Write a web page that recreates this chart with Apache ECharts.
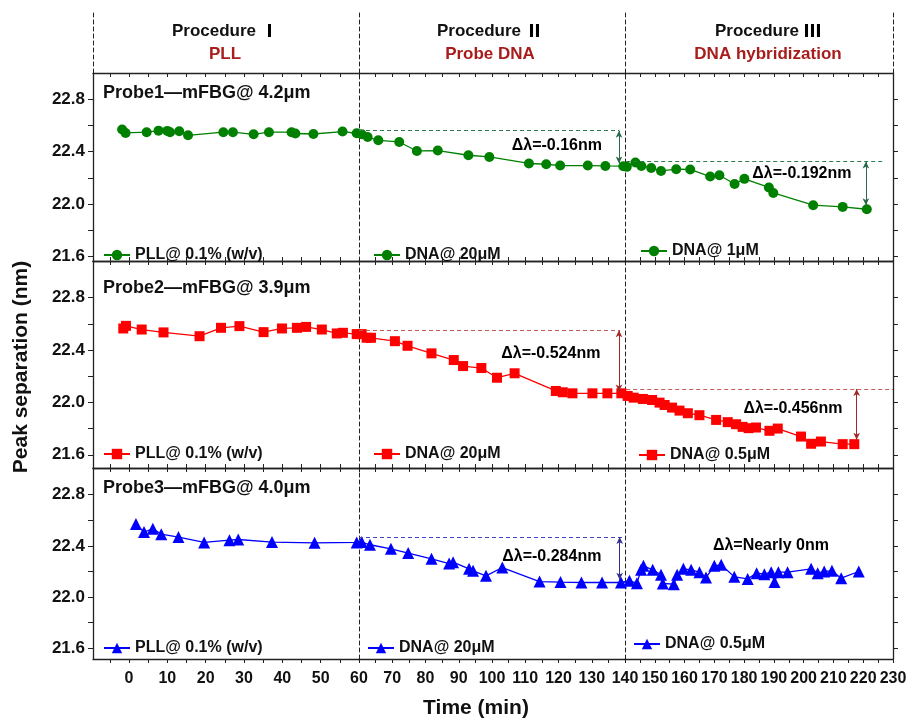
<!DOCTYPE html>
<html>
<head>
<meta charset="utf-8">
<script src="https://cdn.jsdelivr.net/npm/echarts@6.0.0/dist/echarts.min.js"></script>
<style>
html,body{margin:0;padding:0;background:#fff}
#main{width:907px;height:721px}
</style>
</head>
<body>
<div id="main"></div>
<script>
// 读图得到的数据: 时间(min) 和 峰间距(nm)
var probe1Time = [-1.8, -0.9, 4.6, 7.7, 10.0, 10.7, 13.1, 15.4, 24.6, 27.1, 32.5, 36.5, 42.4, 43.4, 48.1, 55.7, 59.4,
	60.8, 62.6, 65.8, 72.1, 77.4, 83.7, 92.9, 99.2, 111.1, 116.3, 120.5, 128.8, 134.1, 139.5,
	140.6, 143.5, 145.5, 148.8, 152.1, 157.2, 161.9, 168.6, 171.7, 176.8, 180.1, 188.3, 189.8, 203.2, 213.1, 221.2];
var probe1Peak = [22.57, 22.544, 22.55, 22.562, 22.56, 22.55, 22.557, 22.526, 22.55, 22.55, 22.534, 22.55, 22.55, 22.54, 22.536, 22.555, 22.542,
	22.534, 22.513, 22.488, 22.475, 22.406, 22.409, 22.373, 22.36, 22.31, 22.304, 22.294, 22.294, 22.291, 22.289,
	22.284, 22.317, 22.291, 22.276, 22.253, 22.266, 22.264, 22.21, 22.22, 22.153, 22.192, 22.126, 22.084, 21.99, 21.977, 21.959];

var probe2Time = [-1.5, -0.8, 3.3, 9.0, 18.4, 24.0, 28.8, 35.1, 39.9, 43.8, 46.2, 50.3, 54.2, 55.8, 59.4,
	60.8, 62.3, 63.6, 70.8, 74.6, 81.8, 88.5, 91.3, 96.8, 101.5, 106.8, 119.2, 121.3, 124.2, 130.2, 134.7, 138.9,
	140.9, 142.9, 146.0, 149.1, 151.6, 153.3, 155.8, 158.3, 161.1, 165.0, 170.6, 174.5, 177.3, 179.5, 181.5, 184.0,
	188.5, 191.3, 199.1, 202.5, 205.8, 213.1, 217.0];
var probe2Peak = [22.564, 22.584, 22.556, 22.534, 22.505, 22.569, 22.582, 22.536, 22.564, 22.569, 22.576, 22.556, 22.526, 22.531, 22.521,
	22.521, 22.493, 22.493, 22.467, 22.432, 22.374, 22.323, 22.277, 22.262, 22.188, 22.222, 22.087, 22.077, 22.069, 22.069, 22.069, 22.069,
	22.049, 22.036, 22.026, 22.018, 21.998, 21.98, 21.96, 21.937, 21.917, 21.902, 21.866, 21.849, 21.833, 21.813, 21.803, 21.808,
	21.783, 21.8, 21.739, 21.684, 21.701, 21.681, 21.681];

var probe3Time = [1.8, 3.9, 6.2, 8.4, 12.9, 19.6, 26.2, 28.5, 37.3, 48.4, 59.4,
	60.8, 63.3, 69.6, 74.8, 81.8, 87.1, 88.3, 93.1, 94.3, 98.2, 103.1, 114.3, 120.6, 126.9, 133.1, 138.8,
	141.5, 144.0, 145.4, 146.2, 149.3, 152.1, 152.7, 156.4, 157.5, 159.6, 162.2, 165.0, 167.2, 170.0, 172.3,
	176.7, 181.2, 184.2, 186.8, 189.1, 190.2, 191.5, 194.6, 202.5, 204.7, 206.9, 209.5, 212.6, 218.5];
var probe3Peak = [22.571, 22.508, 22.534, 22.492, 22.469, 22.427, 22.445, 22.45, 22.43, 22.424, 22.427,
	22.43, 22.409, 22.377, 22.344, 22.299, 22.262, 22.273, 22.221, 22.205, 22.166, 22.231, 22.121, 22.117, 22.114, 22.114, 22.114,
	22.127, 22.109, 22.213, 22.244, 22.213, 22.174, 22.106, 22.101, 22.174, 22.221, 22.213, 22.195, 22.153, 22.244, 22.252,
	22.158, 22.142, 22.187, 22.179, 22.195, 22.117, 22.195, 22.195, 22.221, 22.187, 22.2, 22.205, 22.148, 22.2];

// 三段时间轴 (每段刻度比例不同)
var segRange = [[-9.4, 60], [60, 140], [140, 230]];
var xLabels = [[0, 10, 20, 30, 40, 50, 60], [70, 80, 90, 100, 110, 120, 130], [140, 150, 160, 170, 180, 190, 200, 210, 220, 230]];
var yRange = [[21.562, 23.004], [21.499, 23.079], [21.516, 23.009]];
var yLabels = [21.6, 22.0, 22.4, 22.8];
var yTicks = [21.6, 21.8, 22.0, 22.2, 22.4, 22.6, 22.8];

var procTitle = ['Procedure', 'Procedure', 'Procedure'];
var procNum = ['Ⅰ', 'Ⅱ', 'Ⅲ'];
var procSub = ['PLL', 'Probe DNA', 'DNA hybridization'];
var probeTitle = ['Probe1—mFBG@ 4.2μm', 'Probe2—mFBG@ 3.9μm', 'Probe3—mFBG@ 4.0μm'];
var legendText = [
	['PLL@ 0.1% (w/v)', 'DNA@ 20μM', 'DNA@ 1μM'],
	['PLL@ 0.1% (w/v)', 'DNA@ 20μM', 'DNA@ 0.5μM'],
	['PLL@ 0.1% (w/v)', 'DNA@ 20μM', 'DNA@ 0.5μM']
];

// 标注: [行, 段, 起点t, 终点t, 值]
var guideLines = [[0, 1, 60, 138.2, 22.562], [0, 2, 140.4, 226.9, 22.33], [1, 1, 60, 138.2, 22.551], [1, 2, 140.4, 230, 22.102], [2, 1, 60, 139.4, 22.469]];
// [行, 段, t, 上端, 下端]
var arrowMarks = [[0, 1, 138.2, 22.562, 22.309], [0, 2, 220.9, 22.326, 21.99], [1, 1, 138.2, 22.551, 22.082], [1, 2, 217.8, 22.102, 21.714], [2, 1, 138.4, 22.469, 22.135]];
// [行, 段, t, 值, 文本]
var deltaText = [[0, 1, 119.5, 22.449, 'Δλ=-0.16nm'], [0, 2, 199.4, 22.234, 'Δλ=-0.192nm'], [1, 1, 117.7, 22.376, 'Δλ=-0.524nm'],
	[1, 2, 196.4, 21.95, 'Δλ=-0.456nm'], [2, 1, 118, 22.317, 'Δλ=-0.284nm'], [2, 2, 189, 22.403, 'Δλ=Nearly 0nm']];

var FONT = "'Liberation Sans', Arial, 'Noto Sans CJK SC', sans-serif";
var colLeft = [93, 359, 625], colWidth = [266, 266, 268];
var rowTop = [73, 261, 468], rowHeight = [188, 207, 191];
var colors = ['#008000', '#ff0000', '#0000ff'];
var symbols = ['circle', 'rect', 'triangle'];
var symbolSizes = [10, 10, 12];
var guideColor = ['#2f7d4f', '#c85a5a', '#4444c4'];
var arrowColor = ['#2a6a4a', '#a02828', '#303090'];
var legendPos = [[[103, 247], [373, 247], [640, 243]], [[103, 446], [373, 446], [638, 447]], [[103, 640], [367, 640], [633, 636]]];
var headX = [225, 490, 768];
var probes = [[probe1Time, probe1Peak], [probe2Time, probe2Peak], [probe3Time, probe3Peak]];

//取某一段的数据,两端各多带一个点,让折线连到分界线
function segData(time, peak, lo, hi) {
	var out = [];
	function inside(i) { return i >= 0 && i < time.length && time[i] >= lo && time[i] <= hi; }
	for (var i = 0; i < time.length; i++) {
		if (inside(i) || inside(i - 1) || inside(i + 1)) out.push([time[i], peak[i]]);
	}
	return out;
}

function fiveTicks(range) {
	var arr = [];
	for (var v = Math.ceil(range[0] / 5) * 5; v <= range[1]; v += 5) arr.push(v);
	return arr;
}

var lineColor = '#222';
var grids = [], xAxes = [], yAxes = [], series = [], legends = [], graphics = [];
var axisOf = {}; // 记录每个格子的坐标轴下标,后面放文字用

for (var r = 0; r < 3; r++) {
	for (var c = 0; c < 3; c++) {
		var g = grids.length;
		grids.push({ left: colLeft[c], top: rowTop[r], width: colWidth[c], height: rowHeight[r], containLabel: false, outerBoundsMode: 'none' });
		var xb = xAxes.length;
		xAxes.push({
			gridIndex: g, type: 'value', min: segRange[c][0], max: segRange[c][1], position: 'bottom',
			axisLine: { show: true, onZero: false, lineStyle: { color: lineColor, width: 1.3 } },
			axisTick: { show: true, inside: r < 2, length: 4, customValues: fiveTicks(segRange[c]), lineStyle: { color: lineColor } },
			axisLabel: { show: r === 2, customValues: xLabels[c], margin: 12, fontSize: 16, fontWeight: 'bold', color: '#111', fontFamily: FONT },
			splitLine: { show: false }
		});
		xAxes.push({
			gridIndex: g, type: 'value', min: segRange[c][0], max: segRange[c][1], position: 'top',
			axisLine: { show: true, onZero: false, lineStyle: { color: lineColor, width: 1.3 } },
			axisTick: { show: true, inside: true, length: 4, customValues: fiveTicks(segRange[c]), lineStyle: { color: lineColor } },
			axisLabel: { show: false }, splitLine: { show: false }
		});
		var ym = yAxes.length;
		axisOf[r + '-' + c] = [xb, ym];
		if (c === 0) {
			yAxes.push({
				gridIndex: g, type: 'value', min: yRange[r][0], max: yRange[r][1], position: 'left',
				axisLine: { show: true, onZero: false, lineStyle: { color: lineColor, width: 1.3 } },
				axisTick: { show: true, length: 5, customValues: yTicks, lineStyle: { color: lineColor } },
				axisLabel: { customValues: yLabels, formatter: function (v) { return v.toFixed(1); }, margin: 8, fontSize: 17, fontWeight: 'bold', color: '#111', fontFamily: FONT },
				splitLine: { show: false }
			});
		} else {
			yAxes.push({
				gridIndex: g, type: 'value', min: yRange[r][0], max: yRange[r][1], position: 'left',
				axisLine: { show: true, onZero: false, lineStyle: { color: lineColor, width: 1, type: [4, 3] } },
				axisTick: { show: false }, axisLabel: { show: false }, splitLine: { show: false }
			});
		}
		if (c === 2) {
			yAxes.push({
				gridIndex: g, type: 'value', min: yRange[r][0], max: yRange[r][1], position: 'right',
				axisLine: { show: true, onZero: false, lineStyle: { color: lineColor, width: 1.3 } },
				axisTick: { show: true, length: 5, customValues: yTicks, lineStyle: { color: lineColor } },
				axisLabel: { show: false }, splitLine: { show: false }
			});
		}
		var name = 'P' + r + '-' + c;
		series.push({
			type: 'line', name: name, xAxisIndex: xb, yAxisIndex: ym, clip: true,
			data: segData(probes[r][0], probes[r][1], segRange[c][0], segRange[c][1]),
			symbol: symbols[r], symbolSize: symbolSizes[r], showSymbol: true,
			itemStyle: { color: colors[r] }, lineStyle: { color: colors[r], width: 1.3 }, z: 3
		});
		legends.push({
			data: [name], left: legendPos[r][c][0], top: legendPos[r][c][1], padding: 0,
			itemWidth: 26, itemHeight: 13, selectedMode: false,
			formatter: (function (t) { return function () { return t; }; })(legendText[r][c]),
			textStyle: { fontSize: 16, fontWeight: 'bold', color: '#111', fontFamily: FONT }
		});

		// 标注线和双向箭头
		var marks = [];
		guideLines.forEach(function (d) {
			if (d[0] !== r || d[1] !== c) return;
			var st = { color: guideColor[r], width: 1, type: [4, 3] };
			marks.push([{ coord: [d[2], d[4]], symbol: 'none', lineStyle: st }, { coord: [d[3], d[4]], symbol: 'none', lineStyle: st }]);
		});
		arrowMarks.forEach(function (d) {
			if (d[0] !== r || d[1] !== c) return;
			var st = { color: arrowColor[r], width: 1, type: 'solid' };
			marks.push([{ coord: [d[2], d[3]], symbol: 'arrow', symbolSize: [5, 7], lineStyle: st, itemStyle: { color: arrowColor[r] } },
				{ coord: [d[2], d[4]], symbol: 'arrow', symbolSize: [5, 7], lineStyle: st, itemStyle: { color: arrowColor[r] } }]);
		});
		if (marks.length) {
			series.push({
				type: 'line', xAxisIndex: xb, yAxisIndex: ym, data: [], silent: true,
				markLine: { silent: true, animation: false, label: { show: false }, data: marks }
			});
		}
	}
}

// 顶部标题区,只有虚线分隔
for (var c = 0; c < 3; c++) {
	var g = grids.length;
	grids.push({ left: colLeft[c], top: 10, width: colWidth[c], height: 63, containLabel: false, outerBoundsMode: 'none' });
	xAxes.push({ gridIndex: g, type: 'value', min: 0, max: 1, show: false });
	yAxes.push({
		gridIndex: g, type: 'value', min: 0, max: 1, position: 'left',
		axisLine: { show: true, onZero: false, lineStyle: { color: lineColor, width: 1, type: [4, 3] } },
		axisTick: { show: false }, axisLabel: { show: false }, splitLine: { show: false }
	});
	if (c === 2) {
		yAxes.push({
			gridIndex: g, type: 'value', min: 0, max: 1, position: 'right',
			axisLine: { show: true, onZero: false, lineStyle: { color: lineColor, width: 1, type: [4, 3] } },
			axisTick: { show: false }, axisLabel: { show: false }, splitLine: { show: false }
		});
	}
	graphics.push({
		type: 'text', x: headX[c], y: 31,
		style: {
			text: '{a|' + procTitle[c] + '}{b|' + procNum[c] + '}', textAlign: 'center', textVerticalAlign: 'middle',
			rich: {
				a: { fontSize: 17, fontWeight: 'bold', fill: '#111', fontFamily: FONT },
				b: { fontSize: 17, fontWeight: 900, fill: '#000', fontFamily: "'Noto Sans CJK SC'", padding: [0, 0, 0, 5] }
			}
		}
	});
	graphics.push({ type: 'text', x: headX[c], y: 54, style: { text: procSub[c], textAlign: 'center', textVerticalAlign: 'middle', fontSize: 17, fontWeight: 'bold', fill: '#a81c1c', fontFamily: FONT } });
}

var titleY = [93, 288, 488];
for (var r = 0; r < 3; r++) {
	graphics.push({ type: 'text', x: 103, y: titleY[r], style: { text: probeTitle[r], textVerticalAlign: 'middle', fontSize: 18, fontWeight: 'bold', fill: '#111', fontFamily: FONT } });
}
graphics.push({ type: 'text', x: 476, y: 708, style: { text: 'Time (min)', textAlign: 'center', textVerticalAlign: 'middle', fontSize: 21, fontWeight: 'bold', fill: '#111', fontFamily: FONT } });
graphics.push({ type: 'text', x: 21, y: 367, rotation: Math.PI / 2, style: { text: 'Peak separation (nm)', textAlign: 'center', textVerticalAlign: 'middle', fontSize: 21, fontWeight: 'bold', fill: '#111', fontFamily: FONT } });

var myChart = echarts.init(document.getElementById('main'));
myChart.setOption({
	animation: false,
	backgroundColor: '#fff',
	textStyle: { fontFamily: FONT },
	grid: grids,
	xAxis: xAxes,
	yAxis: yAxes,
	legend: legends,
	series: series,
	graphic: graphics
});

// Δλ 文字: 用坐标轴换算位置
deltaText.forEach(function (d) {
	var ax = axisOf[d[0] + '-' + d[1]];
	var pt = myChart.convertToPixel({ xAxisIndex: ax[0], yAxisIndex: ax[1] }, [d[2], d[3]]);
	graphics.push({ type: 'text', x: pt[0], y: pt[1], z: 10, style: { text: d[4], textAlign: 'center', textVerticalAlign: 'middle', fontSize: 16, fontWeight: 'bold', fill: '#000', fontFamily: FONT } });
});
myChart.setOption({ graphic: graphics });
</script>
</body>
</html>
